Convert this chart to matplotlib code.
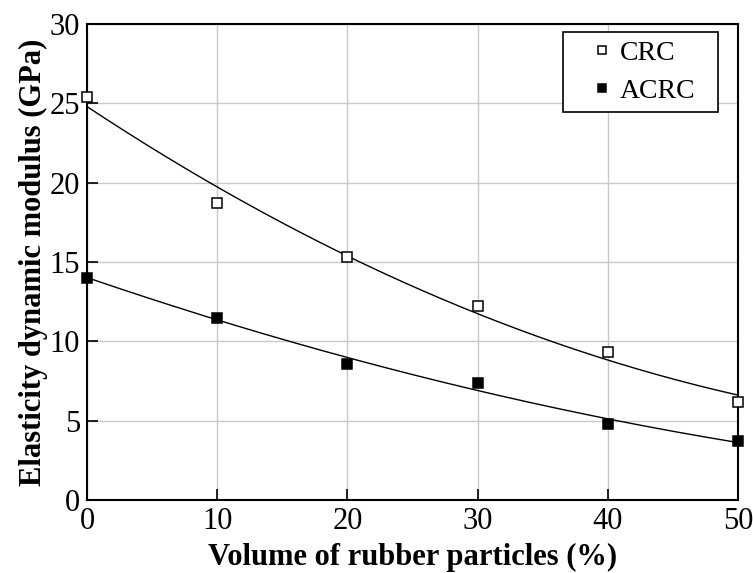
import numpy as np
import matplotlib
matplotlib.use("Agg")
import matplotlib.pyplot as plt

# rubber content (%) and measured dynamic modulus (GPa)
volume = [0, 10, 20, 30, 40, 50]
crc = [25.4, 18.7, 15.3, 12.2, 9.3, 6.2]
acrc = [14.0, 11.5, 8.6, 7.4, 4.8, 3.7]

x_ticks = [0, 10, 20, 30, 40, 50]
y_ticks = [0, 5, 10, 15, 20, 25, 30]

plt.rcParams["font.family"] = ["Liberation Serif", "DejaVu Serif"]

fig = plt.figure(figsize=(7.53, 5.73), dpi=100)
ax = fig.add_axes([0.1155, 0.1274, 0.8645, 0.8306])

# smooth trend lines from a quadratic fit of each series
xs = np.linspace(0, 50, 200)
for vals in (crc, acrc):
    coef = np.polyfit(volume, vals, 2)
    ax.plot(xs, np.polyval(coef, xs), color="black", lw=1.0, zorder=3)

ax.plot(volume, crc, ls="none", marker="s", ms=7, mfc="white", mec="black",
        mew=1.1, label="CRC", zorder=4, clip_on=False)
ax.plot(volume, acrc, ls="none", marker="s", ms=7, mfc="black", mec="black",
        mew=1.1, label="ACRC", zorder=4, clip_on=False)

ax.set_xlim(0, 50)
ax.set_ylim(0, 30)
ax.set_xticks(x_ticks)
ax.set_yticks(y_ticks)
ax.grid(True, color="#c8c8c8", lw=1.0)
ax.set_axisbelow(True)
ax.tick_params(direction="in", length=8, width=1.2, labelsize=22, pad=5)
for s in ax.spines.values():
    s.set_linewidth(1.5)

ax.set_xlabel("Volume of rubber particles (%)", fontsize=22, fontweight="bold", labelpad=5)
ax.set_ylabel("Elasticity dynamic modulus (GPa)", fontsize=22, fontweight="bold", labelpad=1)

leg = ax.legend(loc="upper left", bbox_to_anchor=(0.731, 0.805, 0.238, 0.178),
                mode="expand", borderaxespad=0,
                fontsize=20, handlelength=2.2, handletextpad=-0.45, markerscale=0.85,
                fancybox=False, framealpha=1, edgecolor="black",
                borderpad=0.3, labelspacing=0.45)
leg.get_frame().set_linewidth(1.2)

fig.savefig("out.png", dpi=100)
